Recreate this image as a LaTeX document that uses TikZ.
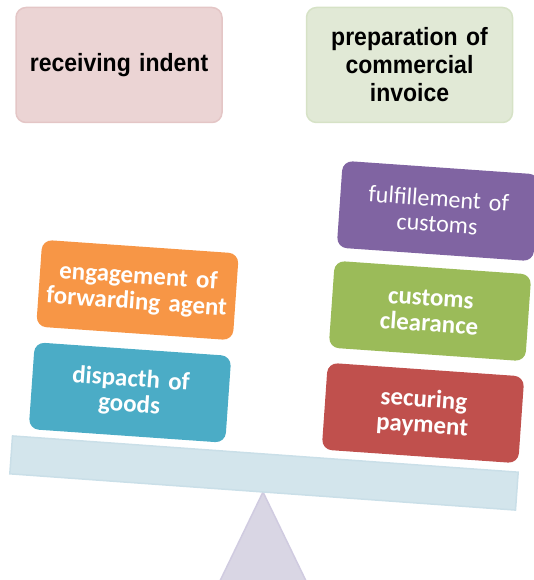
\documentclass[tikz,border=0pt]{standalone}
\usepackage{fontspec}
\setmainfont{Carlito}
\newfontfamily\headfont[FakeStretch=0.92]{Liberation Sans}
\usetikzlibrary{positioning}

\definecolor{pinkbox}{HTML}{EBD4D4}
\definecolor{pinkline}{HTML}{E4C6C6}
\definecolor{greenbox}{HTML}{E1E9D6}
\definecolor{greenline}{HTML}{D6E2C6}
\definecolor{orangebox}{HTML}{F79646}
\definecolor{bluebox}{HTML}{4BACC6}
\definecolor{purplebox}{HTML}{8064A2}
\definecolor{limebox}{HTML}{9BBB59}
\definecolor{redbox}{HTML}{C0504D}
\definecolor{beamfill}{HTML}{D3E5EC}
\definecolor{beamline}{HTML}{CADFE8}
\definecolor{pivotfill}{HTML}{D9D6E4}
\definecolor{pivotline}{HTML}{D0CBE0}

\tikzset{
  topbox/.style={rounded corners=10pt, line width=1.5pt, minimum width=206pt,
    minimum height=115pt, align=center, text width=195pt,
    font=\headfont\fontsize{25}{28}\selectfont\bfseries},
  weightbox/.style={rounded corners=10pt, minimum width=197pt, minimum height=87pt,
    align=center, text width=190pt, text=white, rotate=-4,
    font=\fontsize{25}{25.5}\selectfont\bfseries}
}

\begin{document}
\begin{tikzpicture}[x=1pt,y=-1pt]
\useasboundingbox (0,0) rectangle (534,580);

% Top labels
\node[topbox, fill=pinkbox, draw=pinkline] (indent) at (119,65) {receiving indent};
\node[topbox, fill=greenbox, draw=greenline] (invoice) at (409.5,65)
  {preparation of\\commercial\\invoice};

% Pivot and beam
\draw[fill=pivotfill, draw=pivotline, line width=1.5pt]
  (263,492) -- (308,585) -- (218,585) -- cycle;
\node[draw=beamline, fill=beamfill, line width=1.5pt, rotate=-4.1,
  minimum width=507pt, minimum height=38pt] (beam) at (264,473) {};

% Left side
\node[weightbox, fill=orangebox] (agent) at (137.5,290) {engagement of\\forwarding agent};
\node[weightbox, fill=bluebox] (dispatch) at (130,392.5) {dispacth of\\goods};

% Right side
\node[weightbox, fill=purplebox, font=\fontsize{24}{25.5}\selectfont] (customs) at (438,211)
  {fulfillement of\\customs};
\node[weightbox, fill=limebox] (clearance) at (430,311) {customs\\clearance};
\node[weightbox, fill=redbox] (payment) at (423,413) {securing\\payment};

\end{tikzpicture}
\end{document}
